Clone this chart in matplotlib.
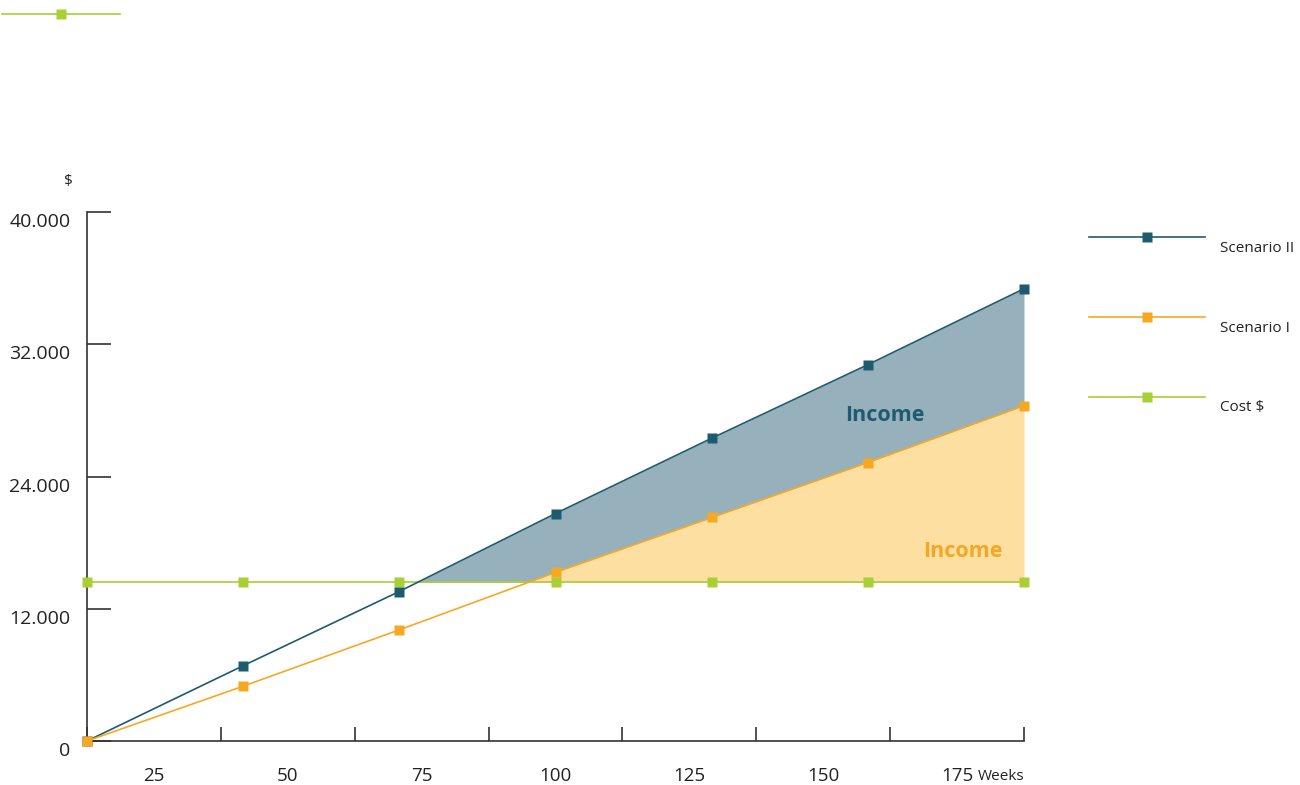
import matplotlib
matplotlib.use('Agg')
import matplotlib.pyplot as plt
from matplotlib.lines import Line2D
from matplotlib.transforms import ScaledTranslation
import numpy as np

plt.rcParams['font.family'] = ['Open Sans', 'DejaVu Sans']

# weeks at each checkpoint and the money values ($)
weeks = [0, 29.2, 58.3, 87.5, 116.7, 145.8, 175]
scenario2 = [0, 5700, 11300, 17200, 22900, 28450, 34200]
scenario1 = [0, 4150, 8400, 12750, 16900, 21050, 25350]
cost = [12000, 12000, 12000, 12000, 12000, 12000, 12000]

ytick_pos = [0, 10000, 20000, 30000, 40000]
ytick_labels = ['0', '12.000', '24.000', '32.000', '40.000']
xtick_pos = [0, 25, 50, 75, 100, 125, 150, 175]
xlabel_pos = [12.5, 37.5, 62.5, 87.5, 112.5, 137.5, 162.5]
xlabel_text = ['25', '50', '75', '100', '125', '150', '175']

teal = '#1e5b6e'
orange = '#f7a823'
green = '#a8cf35'
teal_fill = '#96b1bc'
orange_fill = '#fddfa2'
axis_col = '#333333'
text_col = '#222222'

fig = plt.figure(figsize=(13, 7.85), dpi=100)
ax = fig.add_axes([87/1300, 44/785, 937/1300, 529/785])

# shaded income areas above the cost line
xf = np.linspace(weeks[0], weeks[-1], 800)
s2 = np.interp(xf, weeks, scenario2)
s1 = np.interp(xf, weeks, scenario1)
c = np.interp(xf, weeks, cost)
lower = np.maximum(c, s1)
ax.fill_between(xf, lower, s2, where=s2 > c, color=teal_fill, lw=0, zorder=1)
ax.fill_between(xf, c, s1, where=s1 > c, color=orange_fill, lw=0, zorder=1)
ax.plot([weeks[-1], weeks[-1]], [cost[-1], scenario1[-1]], color='#f3dcae', lw=1.0, zorder=1)

ms = 7
ax.plot(weeks, cost, color=green, lw=1.2, marker='s', ms=ms, mec='none', zorder=3, clip_on=False)
ax.plot(weeks, scenario2, color=teal, lw=1.2, marker='s', ms=ms, mec='none', zorder=4, clip_on=False)
ax.plot(weeks, scenario1, color=orange, lw=1.2, marker='s', ms=ms, mec='none', zorder=5, clip_on=False)

ax.text(149, 24600, 'Income', color=teal, fontsize=15.5, fontweight='bold', ha='center', va='center')
ax.text(163.6, 14350, 'Income', color='#f5a623', fontsize=15.5, fontweight='bold', ha='center', va='center')

ax.set_xlim(0, 175)
ax.set_ylim(0, 40000)
for s in ['top', 'right']:
    ax.spines[s].set_visible(False)
for s in ['left', 'bottom']:
    ax.spines[s].set_color(axis_col)
    ax.spines[s].set_linewidth(1.2)
ax.set_facecolor('none')

ax.set_yticks(ytick_pos)
ax.set_yticklabels(ytick_labels, fontsize=14, color=text_col)
ax.tick_params(axis='y', direction='in', length=17, width=1.2, color=axis_col, pad=12)
# value labels sit a little below their tick marks
shift = ScaledTranslation(0, -8/100, fig.dpi_scale_trans)
for lab in ax.get_yticklabels():
    lab.set_transform(lab.get_transform() + shift)

ax.set_xticks(xtick_pos)
ax.set_xticklabels([])
ax.tick_params(axis='x', which='major', direction='in', length=10, width=1.2, color=axis_col)
ax.set_xticks(xlabel_pos, minor=True)
ax.set_xticklabels(xlabel_text, minor=True, fontsize=13.5, color=text_col)
ax.tick_params(axis='x', which='minor', length=0, pad=19)

fig.text(1001/1300, 1 - 777/785, 'Weeks', fontsize=11, color=text_col, ha='center', va='center')
fig.text(68/1300, 1 - 182/785, '$', fontsize=11, color=text_col, ha='center', va='center')

# legend on the right
entries = [('Scenario II', teal, 237), ('Scenario I', orange, 317), ('Cost $', green, 397)]
for label, col, yp in entries:
    yf = 1 - yp/785
    fig.add_artist(Line2D([1089/1300, 1205/1300], [yf, yf], color=col, lw=1.2))
    fig.add_artist(Line2D([1147/1300], [yf], color=col, marker='s', ms=ms, mec='none'))
    fig.text(1220/1300, 1 - (yp + 11)/785, label, fontsize=11, color=text_col, ha='left', va='center')

# stray legend sample in the corner
yf = 1 - 14/785
fig.add_artist(Line2D([2/1300, 120/1300], [yf, yf], color=green, lw=1.2))
fig.add_artist(Line2D([61/1300], [yf], color=green, marker='s', ms=ms, mec='none'))

fig.savefig('out.png', dpi=100)
